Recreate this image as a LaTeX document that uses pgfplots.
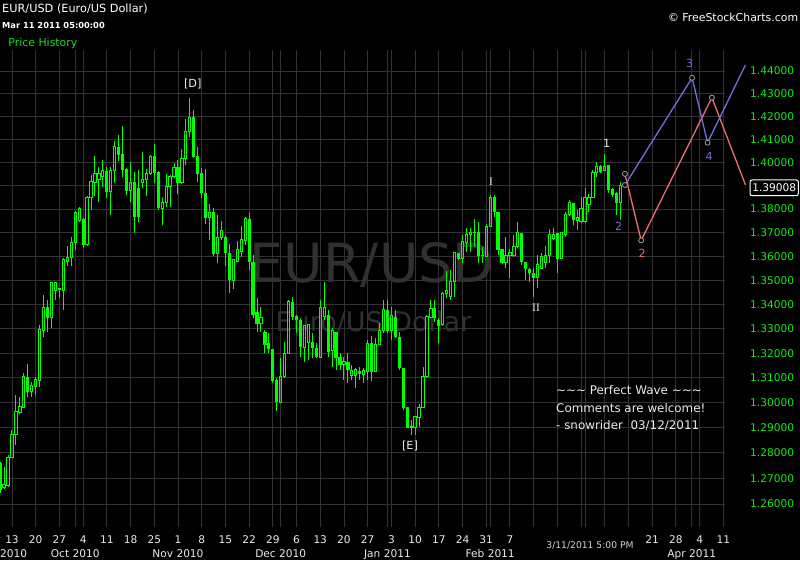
\documentclass[border=0pt]{standalone}
\usepackage{fontspec}
\setmainfont{DejaVu Sans}
\newfontfamily\romanfont{Liberation Serif}
\usepackage{pgfplots}
\usepackage{pgfplotstable}
\pgfplotsset{compat=1.18}

\definecolor{candle}{RGB}{0,255,0}
\definecolor{gridc}{RGB}{50,50,50}
\definecolor{pricelbl}{RGB}{20,235,20}
\definecolor{datelbl}{RGB}{235,235,235}
\definecolor{wmark}{RGB}{48,48,48}
\definecolor{waveblue}{RGB}{112,112,222}
\definecolor{wavered}{RGB}{236,112,112}
\definecolor{labelc}{RGB}{232,238,248}
\definecolor{histgreen}{RGB}{30,215,30}

% EUR/USD daily candles: slot index (6 per week, 0 = Mon 13 Sep 2010), open, high, low, close
\pgfplotstableread{
i o h l c
-3 1.2760 1.2764 1.2643 1.2655
-2 1.2662 1.2745 1.2659 1.2674
-1 1.2670 1.2792 1.2666 1.2784
0 1.2784 1.2891 1.2780 1.2871
1 1.2871 1.3031 1.2831 1.2963
2 1.2959 1.3023 1.2955 1.2986
3 1.2982 1.3119 1.2979 1.3103
4 1.3103 1.3156 1.3023 1.3043
5 1.3043 1.3083 1.3023 1.3067
6 1.3063 1.3103 1.3031 1.3095
7 1.3091 1.3315 1.3063 1.3295
8 1.3291 1.3439 1.3266 1.3389
9 1.3389 1.3418 1.3286 1.3344
10 1.3344 1.3493 1.3303 1.3489
11 1.3456 1.3493 1.3418 1.3489
12 1.3460 1.3468 1.3427 1.3464
13 1.3456 1.3593 1.3377 1.3585
14 1.3580 1.3643 1.3560 1.3597
15 1.3597 1.3681 1.3560 1.3656
16 1.3656 1.3792 1.3627 1.3787
17 1.3753 1.3809 1.3745 1.3800
18 1.3758 1.3762 1.3635 1.3648
19 1.3648 1.3856 1.3643 1.3847
20 1.3847 1.3946 1.3796 1.3920
21 1.3915 1.4027 1.3856 1.3950
22 1.3928 1.3980 1.3830 1.3950
23 1.3937 1.4010 1.3894 1.3963
24 1.3963 1.3980 1.3847 1.3873
25 1.3873 1.3980 1.3775 1.3967
26 1.3963 1.4093 1.3911 1.4067
27 1.4067 1.4119 1.4006 1.4032
28 1.4036 1.4158 1.3937 1.3967
29 1.3971 1.3976 1.3860 1.3877
30 1.3877 1.4001 1.3830 1.3915
31 1.3915 1.3958 1.3698 1.3766
32 1.3890 1.3967 1.3745 1.3766
33 1.3911 1.4045 1.3890 1.3928
34 1.3928 1.3971 1.3856 1.3950
35 1.3950 1.4032 1.3946 1.4027
36 1.4027 1.4080 1.3911 1.3954
37 1.3958 1.3963 1.3796 1.3804
38 1.3804 1.3851 1.3732 1.3826
39 1.3826 1.3950 1.3809 1.3898
40 1.3894 1.3946 1.3809 1.3941
41 1.3937 1.3997 1.3933 1.3980
42 1.3980 1.4010 1.3864 1.3911
43 1.3911 1.4058 1.3907 1.4018
44 1.4018 1.4188 1.3988 1.4132
45 1.4132 1.4281 1.4110 1.4197
46 1.4197 1.4228 1.4018 1.4023
47 1.4027 1.4067 1.3915 1.3950
48 1.3954 1.3976 1.3847 1.3868
49 1.3868 1.3971 1.3736 1.3762
50 1.3762 1.3821 1.3669 1.3787
51 1.3787 1.3804 1.3601 1.3610
52 1.3610 1.3775 1.3572 1.3681
53 1.3681 1.3749 1.3669 1.3707
54 1.3681 1.3690 1.3560 1.3614
55 1.3614 1.3652 1.3447 1.3501
56 1.3501 1.3589 1.3464 1.3585
57 1.3580 1.3665 1.3576 1.3627
58 1.3622 1.3728 1.3597 1.3669
59 1.3665 1.3766 1.3648 1.3758
60 1.3758 1.3783 1.3543 1.3576
61 1.3576 1.3605 1.3344 1.3356
62 1.3369 1.3427 1.3286 1.3319
63 1.3319 1.3389 1.3286 1.3344
64 1.3286 1.3295 1.3200 1.3233
65 1.3241 1.3282 1.3200 1.3217
66 1.3217 1.3217 1.3079 1.3087
67 1.3091 1.3099 1.2967 1.3002
68 1.3002 1.3180 1.2998 1.3103
69 1.3103 1.3245 1.3099 1.3200
70 1.3200 1.3418 1.3196 1.3410
71 1.3410 1.3431 1.3336 1.3348
72 1.3352 1.3356 1.3282 1.3336
73 1.3336 1.3344 1.3184 1.3225
74 1.3225 1.3315 1.3164 1.3311
75 1.3245 1.3315 1.3172 1.3315
76 1.3245 1.3282 1.3180 1.3221
77 1.3221 1.3241 1.3180 1.3184
78 1.3184 1.3418 1.3180 1.3389
79 1.3348 1.3493 1.3336 1.3389
80 1.3356 1.3377 1.3184 1.3204
81 1.3209 1.3303 1.3144 1.3291
82 1.3286 1.3286 1.3132 1.3180
83 1.3184 1.3200 1.3132 1.3152
84 1.3156 1.3184 1.3091 1.3164
85 1.3164 1.3200 1.3079 1.3132
86 1.3111 1.3152 1.3091 1.3128
87 1.3111 1.3140 1.3059 1.3132
88 1.3128 1.3144 1.3091 1.3115
89 1.3115 1.3140 1.3079 1.3128
90 1.3124 1.3254 1.3091 1.3241
91 1.3241 1.3270 1.3087 1.3124
92 1.3124 1.3262 1.3124 1.3233
93 1.3233 1.3323 1.3233 1.3291
94 1.3291 1.3418 1.3282 1.3377
95 1.3377 1.3418 1.3282 1.3291
96 1.3291 1.3389 1.3254 1.3352
97 1.3348 1.3377 1.3262 1.3266
98 1.3266 1.3286 1.3132 1.3140
99 1.3140 1.3140 1.2971 1.2979
100 1.2982 1.2982 1.2899 1.2899
101 1.2899 1.2931 1.2871 1.2903
102 1.2899 1.2943 1.2871 1.2943
103 1.2939 1.2994 1.2903 1.2982
104 1.2982 1.3144 1.2979 1.3103
105 1.3103 1.3356 1.3099 1.3348
106 1.3344 1.3418 1.3344 1.3385
107 1.3385 1.3418 1.3327 1.3344
108 1.3336 1.3344 1.3241 1.3311
109 1.3315 1.3451 1.3311 1.3447
110 1.3447 1.3539 1.3427 1.3456
111 1.3431 1.3543 1.3418 1.3493
112 1.3493 1.3618 1.3431 1.3618
113 1.3614 1.3614 1.3585 1.3589
114 1.3589 1.3690 1.3572 1.3660
115 1.3656 1.3719 1.3618 1.3690
116 1.3690 1.3719 1.3618 1.3702
117 1.3702 1.3758 1.3639 1.3698
118 1.3702 1.3745 1.3572 1.3601
119 1.3605 1.3639 1.3572 1.3601
120 1.3601 1.3736 1.3597 1.3728
121 1.3724 1.3860 1.3724 1.3851
122 1.3851 1.3860 1.3766 1.3787
123 1.3787 1.3787 1.3605 1.3627
124 1.3631 1.3631 1.3568 1.3572
125 1.3572 1.3681 1.3551 1.3605
126 1.3605 1.3631 1.3510 1.3618
127 1.3605 1.3690 1.3597 1.3643
128 1.3639 1.3745 1.3635 1.3698
129 1.3698 1.3698 1.3564 1.3576
130 1.3576 1.3576 1.3501 1.3547
131 1.3547 1.3551 1.3493 1.3530
132 1.3530 1.3551 1.3431 1.3510
133 1.3510 1.3605 1.3468 1.3564
134 1.3551 1.3614 1.3551 1.3601
135 1.3576 1.3643 1.3551 1.3605
136 1.3605 1.3715 1.3572 1.3690
137 1.3673 1.3719 1.3669 1.3690
138 1.3698 1.3698 1.3530 1.3589
139 1.3589 1.3702 1.3589 1.3698
140 1.3690 1.3787 1.3681 1.3775
141 1.3775 1.3839 1.3770 1.3826
142 1.3826 1.3826 1.3732 1.3753
143 1.3749 1.3796 1.3711 1.3762
144 1.3745 1.3851 1.3741 1.3804
145 1.3745 1.3890 1.3741 1.3851
146 1.3817 1.3864 1.3787 1.3851
147 1.3851 1.3967 1.3847 1.3954
148 1.3954 1.4001 1.3937 1.3984
149 1.3984 1.3988 1.3954 1.3958
150 1.3967 1.4036 1.3963 1.3984
151 1.3988 1.3988 1.3868 1.3881
152 1.3885 1.3890 1.3851 1.3860
153 1.3868 1.3873 1.3775 1.3826
154 1.3826 1.3915 1.3753 1.3901
}\fxdata

\begin{document}
\begin{tikzpicture}[x=1pt,y=1pt]
\fill[black] (0,0) rectangle (800,560);
\path[use as bounding box] (0,0) rectangle (800,560);

% watermark behind the chart
\node[text=wmark, font=\fontsize{54}{54}\selectfont, anchor=base, inner sep=0pt] at (372,277) {EUR/USD};
\node[text=wmark, font=\fontsize{27}{27}\selectfont, anchor=base, inner sep=0pt] at (373.5,229) {Euro/US Dollar};

\pgfplotstablegetrowsof{\fxdata}
\pgfmathtruncatemacro{\lastrow}{\pgfplotsretval-1}

\begin{axis}[
  at={(0pt,33pt)}, anchor=south west,
  scale only axis, width=725pt, height=477pt,
  xmin=-3.036, xmax=180.42,
  ymode=log, ymin=1.25108, ymax=1.44934,
  clip=false,
  axis line style={draw=none},
  tick style={draw=none},
  grid=major,
  major grid style={color=gridc, line width=0.9pt},
  xtick={0,6,...,180},
  xticklabels={13,20,27,4,11,18,25,1,8,15,22,29,6,13,20,27,3,10,17,24,31,7,,,,,,21,28,4,11},
  extra x ticks={16,42,68,95,121,145,172},
  extra x tick labels={Oct 2010,Nov 2010,Dec 2010,Jan 2011,Feb 2011,,Apr 2011},
  extra x tick style={xticklabel style={yshift=-13.3pt}},
  xticklabel style={anchor=base, yshift=-17pt, text=datelbl, font=\fontsize{10.6}{12}\selectfont},
  ytick={1.26,1.27,1.28,1.29,1.30,1.31,1.32,1.33,1.34,1.35,1.36,1.37,1.38,1.39,1.40,1.41,1.42,1.43,1.44},
  yticklabels={1.26000,1.27000,1.28000,1.29000,1.30000,1.31000,1.32000,1.33000,1.34000,1.35000,1.36000,1.37000,1.38000,,1.40000,1.41000,1.42000,1.43000,1.44000},
  yticklabel pos=right,
  yticklabel style={anchor=west, xshift=25pt, inner sep=0pt, text=pricelbl, font=\fontsize{10.6}{12}\selectfont},
  minor tick num=0,
  unbounded coords=jump,
  wick/.style={draw=candle, line width=1pt, mark=none},
  bodydown/.style={draw=candle, line width=3.2pt, line cap=butt, mark=none},
  bodyup/.style={draw=candle, line width=1pt, mark=none},
]

\pgfplotsforeachungrouped \r in {0,...,\lastrow}{%
  \pgfplotstablegetelem{\r}{i}\of\fxdata \edef\ci{\pgfplotsretval}%
  \pgfplotstablegetelem{\r}{o}\of\fxdata \edef\cO{\pgfplotsretval}%
  \pgfplotstablegetelem{\r}{h}\of\fxdata \edef\cH{\pgfplotsretval}%
  \pgfplotstablegetelem{\r}{l}\of\fxdata \edef\cL{\pgfplotsretval}%
  \pgfplotstablegetelem{\r}{c}\of\fxdata \edef\cC{\pgfplotsretval}%
  \ifdim\cC pt<\cO pt \edef\bt{\cO}\edef\bb{\cC}\else\edef\bt{\cC}\edef\bb{\cO}\fi
  \pgfmathsetmacro{\xl}{\ci-0.28}%
  \pgfmathsetmacro{\xr}{\ci+0.28}%
  \edef\cmd{\noexpand\addplot[wick] coordinates {(\ci,\cL) (\ci,\bb) (\ci,nan) (\ci,\bt) (\ci,\cH)};}\cmd
  \ifdim\cC pt<\cO pt
    \edef\cmd{\noexpand\addplot[bodydown] coordinates {(\ci,\cO) (\ci,\cC)};}\cmd
  \else
    \edef\cmd{\noexpand\addplot[bodyup] coordinates {(\xl,\bb) (\xr,\bb) (\xr,\bt) (\xl,\bt)} -- cycle;}\cmd
  \fi
}

% projected wave counts
\addplot[wavered, line width=1.3pt, mark=none] coordinates {(155.1,1.3950) (159.2,1.3667) (177.1,1.4282) (185.6,1.3903)};
\addplot[waveblue, line width=1.3pt, mark=none] coordinates {(155.1,1.3903) (172.1,1.4370) (176.0,1.4085) (185.6,1.4427)};
\addplot[only marks, mark=*, mark size=2.5pt, mark options={fill=black, draw=gray!85, line width=0.9pt}]
  coordinates {(155.1,1.3950) (155.1,1.3903) (159.2,1.3667) (172.1,1.4370) (177.1,1.4282) (176.0,1.4085)};
\end{axis}

% header
\node[anchor=base west, inner sep=0pt, text=white, font=\fontsize{11.3}{12}\selectfont] at (2,547.5) {EUR/USD (Euro/US Dollar)};
\node[anchor=base west, inner sep=0pt, text=white, font=\fontsize{8.3}{9}\selectfont\bfseries] at (2,531.7) {Mar 11 2011 05:00:00};
\node[anchor=base west, inner sep=0pt, text=histgreen, font=\fontsize{10.9}{12}\selectfont] at (8.3,513.7) {Price History};
\node[anchor=base east, inner sep=0pt, text=white, font=\fontsize{10.9}{12}\selectfont] at (798.3,538.7) {© FreeStockCharts.com};

% partial month label at the left edge
\node[anchor=base west, inner sep=0pt, text=datelbl, font=\fontsize{10.6}{12}\selectfont] at (0,2.7) {2010};

% time cursor label
\node[text=datelbl!90!black, font=\fontsize{9.2}{10}\selectfont, inner sep=0pt] at (590,14) {3/11/2011 5:00 PM};

% last price tag
\draw[white, line width=1pt, rounded corners=2pt, fill=black] (750,364.3) rectangle (798.3,380);
\node[text=white, font=\fontsize{10.6}{12}\selectfont, inner sep=0pt] at (774.2,372.2) {1.39008};

% wave annotations
\begin{scope}[every node/.style={inner sep=0pt, font=\fontsize{11.2}{12}\selectfont}]
\node[text=labelc] at (192.7,476) {[D]};
\node[text=labelc] at (410,114.3) {[E]};
\node[text=labelc, font=\romanfont\fontsize{11.5}{12}\selectfont] at (491,378.3) {I};
\node[text=labelc, font=\romanfont\fontsize{11.5}{12}\selectfont] at (536,252.7) {II};
\node[text=labelc] at (606.7,416.7) {1};
\node[text=waveblue] at (618.7,334) {2};
\node[text=wavered] at (642.3,306.7) {2};
\node[text=waveblue] at (689.7,496.7) {3};
\node[text=waveblue] at (709.3,403.3) {4};
\end{scope}

% comment block
\begin{scope}[every node/.style={anchor=base west, inner sep=0pt, text=white!92!black, font=\fontsize{11.9}{13}\selectfont}]
\node at (556,165.7) {\textasciitilde\textasciitilde\textasciitilde\ Perfect Wave \textasciitilde\textasciitilde\textasciitilde};
\node at (556,147.3) {Comments are welcome!};
\node at (556,130.7) {- snowrider\ \ 03/12/2011};
\end{scope}
\end{tikzpicture}
\end{document}
